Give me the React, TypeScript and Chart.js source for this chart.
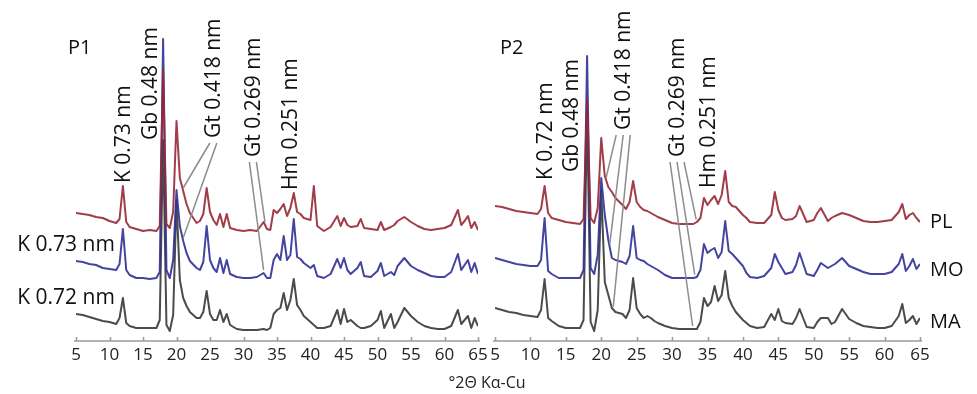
import React, { useEffect, useRef } from "react";
import { Chart, registerables } from "chart.js";

Chart.register(...registerables);

// ---------- DATA ----------
const TWO_THETA = [
  5, 6, 7, 8, 9, 10, 11, 11.5, 12, 12.5, 13, 14, 15, 16, 17, 17.5, 18, 18.5, 19, 19.5,
  20, 20.5, 21, 21.5, 22, 23, 23.5, 24, 24.5, 25, 25.5, 26, 26.5, 27, 27.5, 28, 29, 30, 31, 32,
  33, 33.5, 34, 34.5, 35, 35.5, 36, 36.5, 37, 37.5, 38, 38.5, 39, 40, 40.5, 41, 42, 43, 44, 44.5,
  45, 45.5, 46, 47, 47.5, 48, 49, 50, 50.5, 51, 52, 52.5, 53, 54, 55, 56, 57, 58, 59, 60,
  61, 62, 62.5, 63, 63.5, 64, 64.5, 65,
];

const X_TICKS = [5, 10, 15, 20, 25, 30, 35, 40, 45, 50, 55, 60, 65];
const SERIES_NAMES = ["PL", "MO", "MA"];
const STACK_OFFSETS = [100, 50, 0];

// Panel P1
const P1_PL = [
  27, 26, 25, 23, 22, 19, 17, 21, 54, 18, 13, 11, 9, 10, 9, 14, 170, 16, 12, 28,
  119, 62, 49, 36, 27, 17, 19, 26, 52, 28, 20, 15, 26, 13, 26, 12, 10, 9, 10, 9,
  18, 11, 10, 30, 27, 31, 36, 24, 32, 47, 28, 26, 22, 20, 54, 14, 9, 13, 24, 14,
  22, 15, 13, 14, 21, 12, 11, 10, 18, 10, 13, 15, 19, 23, 18, 14, 11, 10, 11, 12,
  15, 30, 15, 19, 24, 12, 18, 10,
];
const P1_MO = [
  29, 28, 26, 25, 22, 21, 20, 26, 61, 20, 15, 12, 12, 11, 12, 18, 251, 20, 12, 30,
  100, 64, 49, 37, 29, 22, 20, 28, 64, 30, 22, 18, 32, 17, 30, 16, 13, 12, 12, 13,
  17, 12, 12, 30, 36, 30, 54, 30, 35, 71, 33, 31, 27, 22, 25, 14, 12, 16, 31, 22,
  32, 20, 16, 22, 28, 14, 13, 19, 27, 14, 18, 15, 24, 32, 24, 20, 17, 14, 13, 13,
  18, 36, 20, 25, 30, 18, 27, 16,
];
const P1_MA = [
  26, 25, 23, 21, 19, 18, 16, 22, 42, 17, 14, 12, 12, 12, 12, 20, 200, 15, 9, 25,
  140, 60, 42, 34, 28, 22, 22, 28, 49, 26, 20, 20, 30, 18, 26, 15, 11, 10, 10, 10,
  11, 10, 12, 26, 30, 32, 47, 30, 40, 61, 35, 30, 24, 18, 15, 12, 12, 14, 30, 16,
  31, 18, 20, 14, 12, 12, 14, 20, 29, 12, 26, 12, 18, 32, 24, 18, 14, 12, 11, 11,
  14, 30, 16, 20, 24, 12, 22, 14,
];

// Panel P2
const P2_PL = [
  34, 33, 31, 29, 28, 27, 26, 31, 54, 27, 22, 20, 18, 17, 16, 21, 140, 22, 17, 32,
  102, 64, 53, 48, 42, 35, 31, 38, 59, 38, 33, 30, 29, 27, 25, 23, 20, 17, 16, 16,
  16, 18, 22, 42, 35, 40, 44, 36, 45, 69, 38, 34, 33, 25, 22, 18, 17, 17, 25, 48,
  30, 22, 20, 21, 24, 34, 18, 20, 27, 32, 19, 22, 24, 27, 25, 22, 19, 18, 18, 19,
  20, 28, 36, 21, 25, 27, 22, 18,
];
const P2_MO = [
  32, 30, 28, 26, 25, 24, 24, 30, 72, 19, 16, 12, 12, 12, 12, 20, 234, 22, 16, 35,
  112, 75, 50, 32, 30, 28, 26, 34, 64, 32, 30, 29, 26, 24, 22, 20, 15, 12, 12, 12,
  12, 13, 20, 46, 37, 40, 42, 32, 38, 69, 39, 36, 32, 24, 17, 13, 12, 14, 22, 36,
  28, 22, 16, 18, 25, 37, 16, 14, 20, 27, 22, 24, 26, 32, 24, 21, 18, 16, 16, 16,
  18, 26, 36, 19, 24, 31, 21, 26,
];
const P2_MA = [
  32, 30, 28, 27, 25, 24, 23, 30, 61, 22, 19, 14, 12, 12, 12, 20, 230, 18, 9, 30,
  150, 58, 45, 32, 28, 26, 22, 30, 62, 32, 26, 22, 24, 22, 19, 17, 14, 12, 11, 11,
  11, 11, 18, 42, 34, 38, 54, 39, 45, 69, 42, 34, 28, 20, 17, 14, 12, 13, 26, 20,
  31, 19, 17, 16, 22, 31, 13, 12, 18, 22, 22, 16, 18, 31, 21, 17, 14, 13, 12, 12,
  14, 24, 36, 17, 20, 24, 16, 22,
];

// ---------- STYLE / LAYOUT ----------
const COLORS = ["rgba(150,40,52,0.9)", "rgba(48,48,150,0.9)", "rgba(50,50,50,0.88)"];
const FONT = "'Open Sans', 'DejaVu Sans', sans-serif";
const W = 977;
const H = 394;

type Annot = { text: string; theta: number; base: number; targets: [number, number][] };
type Panel = {
  name: string;
  series: number[][];
  left: number;
  right: number;
  nameDx: number;
  annots: Annot[];
  sideLabels: { text: string; theta: number; value: number }[];
  showNames: boolean;
  showTitle: boolean;
};

const PANELS: Panel[] = [
  {
    name: "P1",
    series: [P1_PL, P1_MO, P1_MA],
    left: 76,
    right: 478,
    nameDx: -8,
    annots: [
      { text: "K 0.73 nm", theta: 12.05, base: 157, targets: [] },
      { text: "Gb 0.48 nm", theta: 16.0, base: 200, targets: [] },
      { text: "Gt 0.418 nm", theta: 25.5, base: 202, targets: [[21.0, 0], [21.0, 1]] },
      { text: "Gt 0.269 nm", theta: 31.4, base: 183, targets: [[33.0, 1], [33.2, 0]] },
      { text: "Hm 0.251 nm", theta: 36.9, base: 150, targets: [] },
    ],
    sideLabels: [
      { text: "K 0.73 nm", theta: 10.8, value: 95 },
      { text: "K 0.72 nm", theta: 10.8, value: 42 },
    ],
    showNames: false,
    showTitle: false,
  },
  {
    name: "P2",
    series: [P2_PL, P2_MO, P2_MA],
    left: 495,
    right: 920,
    nameDx: 5,
    annots: [
      { text: "K 0.72 nm", theta: 12.06, base: 160, targets: [] },
      { text: "Gb 0.48 nm", theta: 15.8, base: 168, targets: [] },
      { text: "Gt 0.418 nm", theta: 23.1, base: 210, targets: [[20.7, 0], [21.2, 1], [21.7, 2]] },
      { text: "Gt 0.269 nm", theta: 30.7, base: 183, targets: [[32.9, 2], [33.2, 1], [33.4, 0]] },
      { text: "Hm 0.251 nm", theta: 35.1, base: 152, targets: [] },
    ],
    sideLabels: [],
    showNames: true,
    showTitle: true,
  },
];

function valueAt(arr: number[], theta: number): number {
  for (let i = 0; i < TWO_THETA.length - 1; i++) {
    const a = TWO_THETA[i];
    const b = TWO_THETA[i + 1];
    if (theta >= a && theta <= b) {
      const t = (theta - a) / (b - a);
      return arr[i] + (arr[i + 1] - arr[i]) * t;
    }
  }
  return arr[arr.length - 1];
}

function decorPlugin(panel: Panel) {
  return {
    id: "decor" + panel.name,
    afterDraw(chart: any) {
      const { ctx, chartArea: a, scales } = chart;
      const xs = scales.x;
      const ys = scales.y;
      ctx.save();
      // axis line and inward ticks
      ctx.strokeStyle = "#9a9a9a";
      ctx.lineWidth = 1.5;
      ctx.beginPath();
      ctx.moveTo(a.left - 2, a.bottom + 1);
      ctx.lineTo(a.right + 2, a.bottom + 1);
      for (const t of X_TICKS) {
        const px = Math.round(xs.getPixelForValue(t)) + 0.5;
        ctx.moveTo(px, a.bottom + 1);
        ctx.lineTo(px, a.bottom - 3);
      }
      ctx.stroke();

      // leader lines
      ctx.strokeStyle = "#8c8c8c";
      ctx.lineWidth = 1.5;
      for (const an of panel.annots) {
        const x = xs.getPixelForValue(an.theta);
        const yb = ys.getPixelForValue(an.base);
        const n = an.targets.length;
        an.targets.forEach(([th, s], i) => {
          const sx = x + (i - (n - 1) / 2) * 7;
          const ex = xs.getPixelForValue(th);
          const ey = ys.getPixelForValue(valueAt(panel.series[s], th) + STACK_OFFSETS[s]) - 3;
          ctx.beginPath();
          ctx.moveTo(sx, yb + 5);
          ctx.lineTo(ex, ey);
          ctx.stroke();
        });
      }

      // rotated annotations
      ctx.fillStyle = "#111";
      ctx.font = `21px ${FONT}`;
      ctx.textAlign = "left";
      ctx.textBaseline = "middle";
      for (const an of panel.annots) {
        const x = xs.getPixelForValue(an.theta);
        const yb = ys.getPixelForValue(an.base);
        ctx.save();
        ctx.translate(x, yb);
        ctx.rotate(-Math.PI / 2);
        ctx.fillText(an.text, 0, 1);
        ctx.restore();
      }

      // side labels
      ctx.textAlign = "right";
      for (const sl of panel.sideLabels) {
        ctx.fillText(sl.text, xs.getPixelForValue(sl.theta), ys.getPixelForValue(sl.value));
      }

      // panel name
      ctx.font = `20px ${FONT}`;
      ctx.textAlign = "left";
      ctx.fillText(panel.name, a.left + panel.nameDx, a.top + 28);

      // series names
      if (panel.showNames) {
        ctx.font = `20px ${FONT}`;
        const nameVals = [118, 70, 18];
        SERIES_NAMES.forEach((nm, i) => {
          ctx.fillText(nm, a.right + 10, ys.getPixelForValue(nameVals[i]));
        });
      }

      // axis title
      if (panel.showTitle) {
        ctx.font = `16px ${FONT}`;
        ctx.fillStyle = "#222";
        ctx.textAlign = "center";
        ctx.fillText("°2Θ Kα-Cu", a.left - 8, a.bottom + 43);
      }
      ctx.restore();
    },
  };
}

function PanelChart({ panel }: { panel: Panel }) {
  const ref = useRef<HTMLCanvasElement | null>(null);
  useEffect(() => {
    if (!ref.current) return;
    const datasets = panel.series.map((arr, s) => ({
      label: SERIES_NAMES[s],
      data: arr.map((v, i) => ({ x: TWO_THETA[i], y: v + STACK_OFFSETS[s] })),
      borderColor: COLORS[s],
      borderWidth: 2,
      pointRadius: 0,
      tension: 0,
      fill: false,
      borderJoinStyle: "round" as const,
    }));
    const chart = new Chart(ref.current, {
      type: "line",
      data: { datasets },
      options: {
        animation: false,
        responsive: false,
        devicePixelRatio: 1,
        layout: { padding: { left: panel.left, right: W - panel.right, top: 20, bottom: 20 } },
        plugins: { legend: { display: false }, tooltip: { enabled: false } },
        scales: {
          x: {
            type: "linear",
            min: 5,
            max: 65,
            grid: { display: false, drawTicks: false },
            border: { display: false },
            ticks: { stepSize: 5, padding: 5, color: "#222", font: { size: 17, family: FONT } },
            afterFit: (s: any) => {
              s.height = 34;
            },
          },
          y: { display: false, min: 0, max: 320 },
        },
      },
      plugins: [decorPlugin(panel)],
    });
    return () => chart.destroy();
  }, [panel]);
  return (
    <canvas
      ref={ref}
      width={W}
      height={H}
      style={{ position: "absolute", left: 0, top: 0, width: W, height: H }}
    />
  );
}

export default function App() {
  Chart.defaults.font.family = FONT;
  return (
    <div style={{ position: "fixed", left: 0, top: 0, width: W, height: H, background: "#fff" }}>
      {PANELS.map((p) => (
        <PanelChart key={p.name} panel={p} />
      ))}
    </div>
  );
}
